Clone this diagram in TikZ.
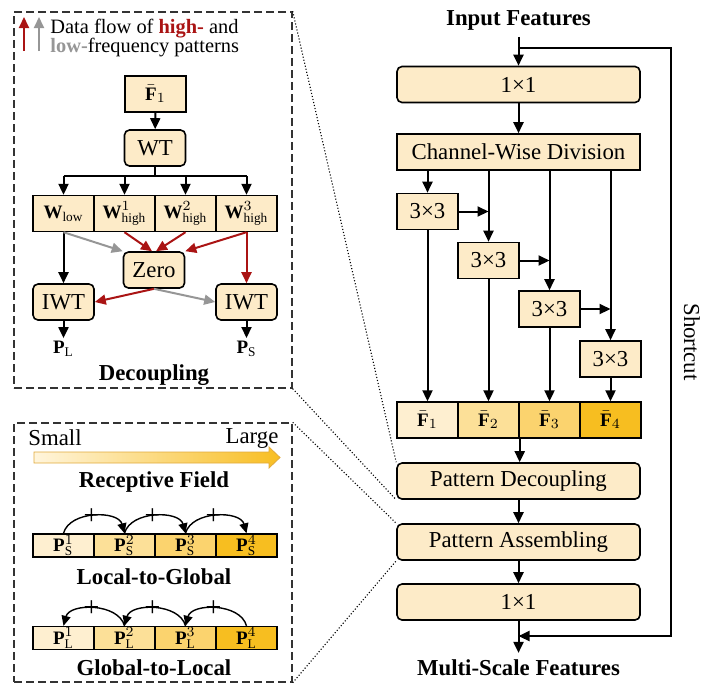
\documentclass[tikz,border=0pt]{standalone}
\usepackage{fontspec}
\setmainfont{Liberation Serif}
\usepackage{amsmath}
\usetikzlibrary{arrows.meta,positioning}
\definecolor{boxfill}{RGB}{253,235,200}
\definecolor{lvlone}{RGB}{254,239,208}
\definecolor{lvltwo}{RGB}{252,224,152}
\definecolor{lvlthree}{RGB}{251,211,110}
\definecolor{lvlfour}{RGB}{247,190,32}
\definecolor{hifreq}{RGB}{170,20,20}
\definecolor{lofreq}{RGB}{150,150,150}
\definecolor{rfleft}{RGB}{255,245,220}
\definecolor{rfright}{RGB}{248,190,34}
\definecolor{rfedge}{RGB}{225,170,60}

\begin{document}
\begin{tikzpicture}[x=0.5pt,y=-0.5pt,
  every node/.style={font=\fontsize{11.4}{13}\selectfont},
  blk/.style={draw,fill=boxfill,line width=0.8pt,inner sep=0pt,minimum width=121.5pt,minimum height=18pt},
  rblk/.style={blk,rounded corners=2.5pt},
  sq/.style={draw,fill=boxfill,line width=0.8pt,inner sep=0pt,minimum width=30.5pt,minimum height=18pt},
  rsq/.style={sq,rounded corners=2.5pt},
  mlab/.style={font=\fontsize{9.5}{10}\selectfont},
  cell/.style={draw,line width=0.7pt,inner sep=0pt,minimum width=30.5pt,minimum height=18pt,mlab},
  pcell/.style={cell,minimum height=11.5pt},
  arr/.style={-{Triangle[length=5.5pt,width=5pt]},line width=1pt},
  hiarr/.style={arr,draw=hifreq},
  loarr/.style={arr,draw=lofreq},
  arcarr/.style={-{Triangle[length=5pt,width=4.5pt]},line width=0.7pt},
  panel/.style={draw=black!80,dash pattern=on 4pt off 2pt,line width=0.7pt,inner sep=0pt},
  zoomline/.style={densely dotted,line width=0.55pt},
  title/.style={font=\fontsize{11.4}{13}\selectfont\bfseries},
  plus/.style={font=\fontsize{14}{15}\selectfont,inner sep=0pt}
]
\useasboundingbox (0,0) rectangle (704,692);

\node[title] (infeat) at (518.5,20) {Input Features};
\node[rblk] (conva) at (518.5,84.5) {1×1};
\node[blk] (cwd) at (518.5,152) {Channel-Wise Division};
\foreach \i/\y in {1/211.5,2/260.5,3/309,4/359}
  \node[sq] (k\i) at ({366.5+61*\i},\y) {3×3};
\foreach \i/\c in {1/lvlone,2/lvltwo,3/lvlthree,4/lvlfour}
  \node[cell,fill=\c] (f\i) at ({366.5+61*\i},420) {$\bar{\mathbf{F}}_{\i}$};
\node[rblk] (pdec) at (518.5,481) {Pattern Decoupling};
\node[rblk] (pasm) at (518.5,542) {Pattern Assembling};
\node[rblk] (convb) at (518.5,602) {1×1};
\node[title] (outfeat) at (518.5,668) {Multi-Scale Features};
\node[rotate=-90] (sclab) at (692,342) {Shortcut};

\coordinate (split) at (518.5,48);
\coordinate (scup) at (671,48);
\coordinate (scdn) at (671,636);
\coordinate (merge) at (518.5,636);

\draw[arr] (infeat) -- (conva);
\draw[arr] (conva) -- (cwd);
\draw[arr] (split) -- (scup) -- (scdn) -- (merge);
\foreach \i in {1,...,4}
  \draw[arr] (cwd.south -| k\i) -- (k\i);
\foreach \i/\j in {1/2,2/3,3/4}
  \draw[arr] (k\i) -- (k\i -| k\j);
\foreach \i in {1,...,4}
  \draw[arr] (k\i) -- (f\i);
\draw[arr] (f2.south east) -- (f2.south east |- pdec.north);
\draw[arr] (pdec) -- (pasm);
\draw[arr] (pasm) -- (convb);
\draw[arr] (convb) -- (outfeat);

\node[panel,minimum width=139pt,minimum height=188pt] (decpanel) at (153,200) {};
\coordinate (hitail) at (24,51);
\coordinate (hihead) at (24,17);
\coordinate (lotail) at (39,51);
\coordinate (lohead) at (39,17);
\draw[hiarr] (hitail) -- (hihead);
\draw[loarr] (lotail) -- (lohead);
\node[anchor=base west,inner sep=0pt,font=\fontsize{10.2}{12}\selectfont] (lega) at (50,33) {Data flow of \textbf{\color{hifreq}high-} and};
\node[anchor=base west,inner sep=0pt,font=\fontsize{10.2}{12}\selectfont] (legb) at (50,52) {\textbf{\color{lofreq}low-}frequency patterns};

\node[sq,mlab] (fone) at (155.5,94) {$\bar{\mathbf{F}}_1$};
\node[rsq] (wt) at (155,148) {WT};
\coordinate (bus) at (155,176);
\node[cell,fill=boxfill] (w1) at (63.5,213.5) {$\mathbf{W}_{\text{low}}$};
\node[cell,fill=boxfill] (w2) at (124.5,213.5) {$\mathbf{W}^{1}_{\text{high}}$};
\node[cell,fill=boxfill] (w3) at (185.5,213.5) {$\mathbf{W}^{2}_{\text{high}}$};
\node[cell,fill=boxfill] (w4) at (246.5,213.5) {$\mathbf{W}^{3}_{\text{high}}$};
\node[rsq] (zero) at (154,270) {Zero};
\node[rsq] (iwtl) at (63.5,302) {IWT};
\node[rsq] (iwtr) at (246.5,302) {IWT};
\node[mlab,inner sep=1.5pt] (outl) at (63.5,349) {$\mathbf{P}_{\mathrm{L}}$};
\node[mlab,inner sep=1.5pt] (outs) at (246.5,349) {$\mathbf{P}_{\mathrm{S}}$};
\node[title] (dectitle) at (154,375) {Decoupling};

\draw[arr] (fone) -- (wt);
\draw[line width=1pt] (wt) -- (bus);
\draw[line width=1pt] (w1 |- bus) -- (w4 |- bus);
\foreach \i in {1,...,4}
  \draw[arr] (w\i |- bus) -- (w\i);
\draw[arr] (w1) -- (iwtl);
\draw[loarr] (w1.south) -- (zero.north west);
\draw[hiarr] (w2.south) -- ([xshift=-1pt]zero.north);
\draw[hiarr] (w3.south) -- ([xshift=1pt]zero.north);
\draw[hiarr] (w4.south) -- (zero.north east);
\draw[hiarr] (w4) -- (iwtr);
\draw[hiarr] (zero.south) -- (iwtl.east);
\draw[loarr] (zero.south) -- (iwtr.west);
\draw[arr] (iwtl) -- (outl);
\draw[arr] (iwtr) -- (outs);

\node[panel,minimum width=139pt,minimum height=129.5pt] (asmpanel) at (153,552.5) {};
\node (small) at (55,438) {Small};
\node (large) at (252,438) {Large};
\shadedraw[left color=rfleft,right color=rfright,draw=rfedge,line width=0.4pt]
  (34,452) -- (269,452) -- (269,447) -- (280,457.5) -- (269,468) -- (269,463) -- (34,463) -- cycle;
\node[title] (rftitle) at (154,482) {Receptive Field};
\foreach \i/\c in {1/lvlone,2/lvltwo,3/lvlthree,4/lvlfour}
  \node[pcell,fill=\c] (ps\i) at ({2.5+61*\i},545.5) {$\mathbf{P}^{\i}_{\mathrm{S}}$};
\foreach \i/\j in {1/2,2/3,3/4}
  \draw[arcarr] (ps\i.north) to[out=75,in=105] node[plus,pos=0.47] {+} (ps\j.north);
\node[title] (lgtitle) at (154,577) {Local-to-Global};
\foreach \i/\c in {1/lvlone,2/lvltwo,3/lvlthree,4/lvlfour}
  \node[pcell,fill=\c] (pl\i) at ({2.5+61*\i},638) {$\mathbf{P}^{\i}_{\mathrm{L}}$};
\foreach \i/\j in {2/1,3/2,4/3}
  \draw[arcarr] (pl\i.north) to[out=105,in=75] node[plus,pos=0.53] {+} (pl\j.north);
\node[title] (gltitle) at (154,668) {Global-to-Local};

\draw[zoomline] (decpanel.north east) -- (pdec.north west);
\draw[zoomline] (decpanel.south east) -- (pdec.south west);
\draw[zoomline] (asmpanel.north east) -- (pasm.north west);
\draw[zoomline] (asmpanel.south east) -- (pasm.south west);
\end{tikzpicture}
\end{document}
